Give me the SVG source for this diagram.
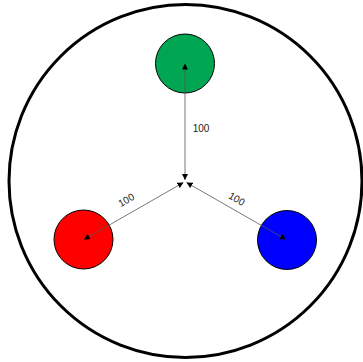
<svg xmlns="http://www.w3.org/2000/svg" width="363" height="362" viewBox="0 0 363 362">
<defs>
<marker id="ah" viewBox="0 0 10 10" refX="10" refY="5" markerWidth="6" markerHeight="6" orient="auto-start-reverse" markerUnits="userSpaceOnUse">
<path d="M0,0 L10,5 L0,10 z" fill="#000"/>
</marker>
</defs>
<style>
.node{stroke:#000;stroke-width:1}
.conn{stroke:#555;stroke-width:0.8;fill:none;marker-start:url(#ah);marker-end:url(#ah)}
.lbl{font-family:"Liberation Sans",Arial,sans-serif;font-size:10px;fill:#222;text-anchor:middle}
</style>
<g id="boundary"><circle cx="185.5" cy="181" r="176.5" fill="#fff" stroke="#000" stroke-width="3"/></g>
<g id="green"><circle class="node" cx="185" cy="63.5" r="29.5" fill="#00A651"/></g>
<g id="red"><circle class="node" cx="83.5" cy="239.5" r="29.5" fill="#FF0000"/></g>
<g id="blue"><circle class="node" cx="287" cy="240" r="29.5" fill="#0000FF"/></g>
<g id="connectors">
<line class="conn" x1="185" y1="63.5" x2="185" y2="180"/>
<line class="conn" x1="84" y1="239.5" x2="183.5" y2="182.5"/>
<line class="conn" x1="286" y1="239.5" x2="186.5" y2="182.5"/>
<text class="lbl" x="201" y="132">100</text>
<text class="lbl" transform="translate(128,203) rotate(-30)">100</text>
<text class="lbl" transform="translate(235,202) rotate(30)">100</text>
</g>
</svg>
